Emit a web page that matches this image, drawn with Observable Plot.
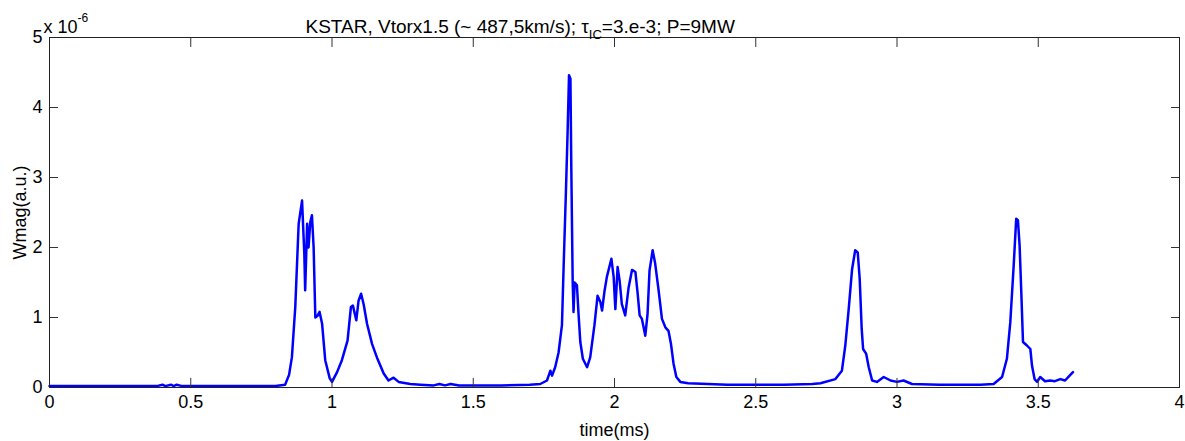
<!DOCTYPE html>
<html><head><meta charset="utf-8">
<script src="https://cdn.jsdelivr.net/npm/d3@7"></script>
<script src="https://cdn.jsdelivr.net/npm/@observablehq/plot@0.6"></script>
<style>
html,body{margin:0;padding:0;background:#fff}
</style>
</head><body><div id="chart"></div>
<script>
// time (ms)
const time = [
  0, 0.38, 0.40, 0.41, 0.43, 0.44, 0.45, 0.47, 0.80,
  0.834, 0.848, 0.858, 0.870, 0.882, 0.894, 0.902, 0.905, 0.912, 0.917, 0.923, 0.929, 0.935, 0.941, 0.948, 0.956, 0.965, 0.976, 0.992, 1.000,
  1.018, 1.035, 1.055, 1.067, 1.074, 1.086, 1.094, 1.103, 1.112, 1.124, 1.142, 1.159, 1.183, 1.200, 1.218, 1.236, 1.277, 1.313,
  1.36, 1.38, 1.40, 1.42, 1.45, 1.60, 1.70,
  1.737, 1.761, 1.773, 1.779, 1.790, 1.802, 1.814, 1.820, 1.828, 1.834, 1.839, 1.844, 1.847, 1.852, 1.855, 1.859, 1.867, 1.873, 1.879, 1.888, 1.903, 1.914, 1.929, 1.940, 1.950, 1.956, 1.964, 1.973, 1.989, 1.997,
  2.003, 2.011, 2.018, 2.026, 2.038, 2.050, 2.062, 2.074, 2.082, 2.089, 2.097, 2.109, 2.117, 2.124, 2.135, 2.144, 2.156, 2.168, 2.180, 2.191, 2.200, 2.209, 2.219, 2.233, 2.261,
  2.40, 2.60, 2.70,
  2.729, 2.782, 2.805, 2.817, 2.829, 2.841, 2.852, 2.861, 2.868, 2.875, 2.880, 2.891, 2.900, 2.912, 2.929, 2.953, 2.977, 3.000, 3.023, 3.053,
  3.15, 3.25,
  3.295, 3.342, 3.372, 3.389, 3.401, 3.413, 3.422, 3.428, 3.434, 3.440, 3.446, 3.460, 3.472, 3.478, 3.487, 3.496, 3.507, 3.524, 3.542, 3.559, 3.578, 3.595, 3.611, 3.623
];
// Wmag (a.u., ×1e-6)
const wmag = [
  0.02, 0.02, 0.04, 0.02, 0.04, 0.02, 0.04, 0.02, 0.02,
  0.04, 0.18, 0.43, 1.15, 2.34, 2.67, 1.91, 1.39, 2.34, 2.00, 2.36, 2.46, 2.00, 1.00, 1.02, 1.08, 0.91, 0.39, 0.13, 0.08,
  0.22, 0.39, 0.67, 1.15, 1.17, 0.96, 1.24, 1.34, 1.19, 0.91, 0.62, 0.43, 0.20, 0.10, 0.14, 0.08, 0.05, 0.04,
  0.03, 0.05, 0.03, 0.05, 0.03, 0.03, 0.04,
  0.05, 0.10, 0.24, 0.17, 0.29, 0.50, 0.89, 1.74, 2.79, 3.65, 4.46, 4.41, 3.17, 1.50, 1.08, 1.50, 1.46, 1.03, 0.65, 0.41, 0.29, 0.43, 0.89, 1.31, 1.22, 1.10, 1.36, 1.58, 1.84, 1.58,
  1.12, 1.72, 1.53, 1.19, 1.03, 1.43, 1.68, 1.65, 1.34, 1.03, 0.98, 0.74, 1.05, 1.67, 1.96, 1.77, 1.39, 0.98, 0.86, 0.81, 0.62, 0.34, 0.15, 0.08, 0.06,
  0.04, 0.04, 0.05,
  0.06, 0.12, 0.24, 0.60, 1.12, 1.69, 1.96, 1.93, 1.55, 0.84, 0.55, 0.48, 0.29, 0.10, 0.08, 0.15, 0.10, 0.08, 0.10, 0.05,
  0.04, 0.04,
  0.04, 0.05, 0.15, 0.41, 0.93, 1.74, 2.41, 2.39, 2.03, 1.36, 0.65, 0.60, 0.55, 0.31, 0.12, 0.08, 0.15, 0.09, 0.10, 0.09, 0.12, 0.10, 0.17, 0.22
];
const xTicks = [0, 0.5, 1, 1.5, 2, 2.5, 3, 3.5, 4];
const yTicks = [0, 1, 2, 3, 4, 5];
const titleParts = ["KSTAR, Vtorx1.5 (~ 487,5km/s); τ", "IC", "=3.e-3; P=9MW"];
const exponentParts = ["x 10", "-6"];
const xLabel = "time(ms)";
const yLabel = "Wmag(a.u.)";

const data = time.map((t, i) => ({t, w: wmag[i]}));
const FONT = "'Liberation Sans', Arial, Helvetica, sans-serif";
const fmt = d => String(d);

const chart = Plot.plot({
  width: 1185,
  height: 441,
  marginLeft: 49,
  marginRight: 6,
  marginTop: 37,
  marginBottom: 54,
  style: {fontFamily: FONT, fontSize: "18px", color: "#000", background: "#fff"},
  x: {domain: [0, 4]},
  y: {domain: [0, 5]},
  marks: [
    Plot.line(data, {x: "t", y: "w", stroke: "#0000ff", strokeWidth: 2.5}),
    Plot.axisX(xTicks, {anchor: "bottom", tickSize: -9, text: null, label: null, stroke: "#333"}),
    Plot.axisX(xTicks, {anchor: "top", tickSize: -9, text: null, label: null, stroke: "#333"}),
    Plot.axisX(xTicks, {anchor: "bottom", tickSize: 0, tickPadding: 8, tickFormat: fmt, label: xLabel, labelAnchor: "center", labelArrow: "none", labelOffset: 48, fill: "#000"}),
    Plot.axisY(yTicks, {anchor: "left", tickSize: -9, text: null, label: null, stroke: "#333"}),
    Plot.axisY(yTicks, {anchor: "right", tickSize: -9, text: null, label: null, stroke: "#333"}),
    Plot.axisY(yTicks, {anchor: "left", tickSize: 0, tickPadding: 7, tickFormat: fmt, label: yLabel, labelAnchor: "center", labelArrow: "none", labelOffset: 36, fill: "#000"}),
    Plot.frame({stroke: "#222", strokeWidth: 1}),
    Plot.text([titleParts.join("")], {frameAnchor: "top-left", textAnchor: "start", lineAnchor: "bottom", dx: 256, dy: -5, fontSize: 19, fill: "#000"}),
    Plot.text([exponentParts.join("")], {frameAnchor: "top-left", textAnchor: "start", lineAnchor: "bottom", dx: -6, dy: -5, fontSize: 18, fill: "#000"})
  ]
});
document.getElementById("chart").appendChild(chart);

// rich text: subscript / superscript
const svg = d3.select(chart);
const findText = s => svg.selectAll("text").filter(function () { return this.textContent === s; });
const t = findText(titleParts.join(""));
t.text(null);
t.append("tspan").text(titleParts[0]);
t.append("tspan").attr("font-size", 13).attr("dy", 6).text(titleParts[1]);
t.append("tspan").attr("dy", -6).text(titleParts[2]);
const e = findText(exponentParts.join(""));
e.text(null);
e.append("tspan").text(exponentParts[0]);
e.append("tspan").attr("font-size", 12).attr("dy", -11).text(exponentParts[1]);
</script>
</body></html>
